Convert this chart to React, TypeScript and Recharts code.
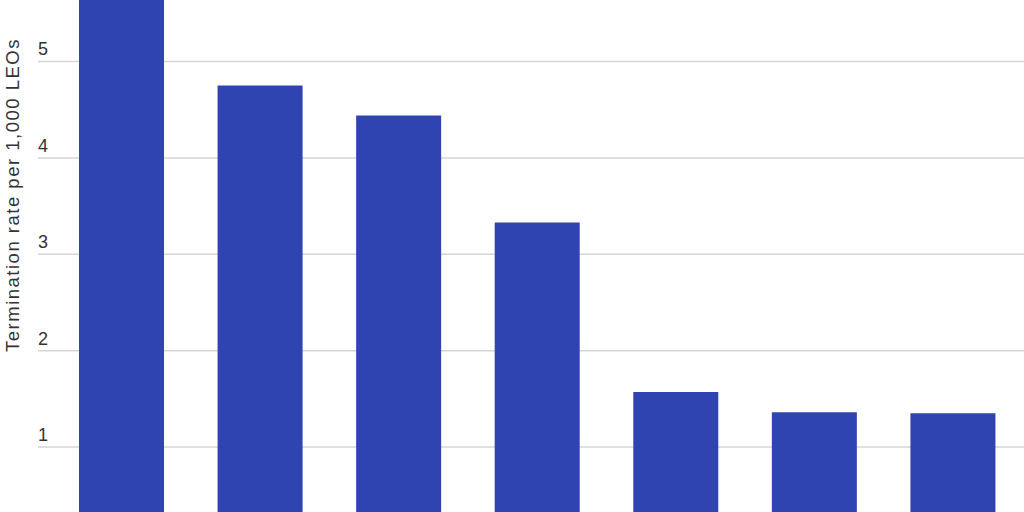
import { BarChart, Bar, XAxis, YAxis, CartesianGrid, Label } from 'recharts';

const groups = ['Group 1', 'Group 2', 'Group 3', 'Group 4', 'Group 5', 'Group 6', 'Group 7'];
const rates = [6.2, 4.75, 4.44, 3.33, 1.57, 1.36, 1.35];
const yTicks = [1, 2, 3, 4, 5];

const data = groups.map((g, i) => ({ group: g, rate: rates[i] }));

const FONT = '"Liberation Sans", Arial, sans-serif';

const YTick = (props: any) => {
  const { y, payload } = props;
  return (
    <text x={38} y={y - 6} textAnchor="start" fill="#333333" fontSize={18} fontFamily={FONT}>
      {payload.value}
    </text>
  );
};

const YLabel = () => (
  <text
    x={19}
    y={195}
    transform="rotate(-90, 19, 195)"
    textAnchor="middle"
    fill="#333333"
    fontSize={18.5}
    letterSpacing={1.5}
    fontFamily={FONT}
  >
    Termination rate per 1,000 LEOs
  </text>
);

export default function App() {
  return (
    <div style={{ position: 'fixed', top: 0, left: 0, width: 1024, height: 512, background: '#ffffff', overflow: 'hidden' }}>
      <BarChart width={1024} height={512} data={data} margin={{ top: 0, right: 0, left: 0, bottom: 0 }}>
        <CartesianGrid vertical={false} stroke="#d6d6d6" strokeWidth={1.5} horizontalValues={yTicks} />
        <XAxis dataKey="group" hide padding={{ left: 14, right: 2 }} />
        <YAxis
          width={38}
          domain={[0.326, 5.638]}
          ticks={yTicks}
          allowDataOverflow
          axisLine={false}
          tickLine={false}
          tick={YTick}
        >
          <Label content={YLabel} />
        </YAxis>
        <Bar dataKey="rate" fill="#2f43b1" barSize={85} isAnimationActive={false} />
      </BarChart>
    </div>
  );
}
